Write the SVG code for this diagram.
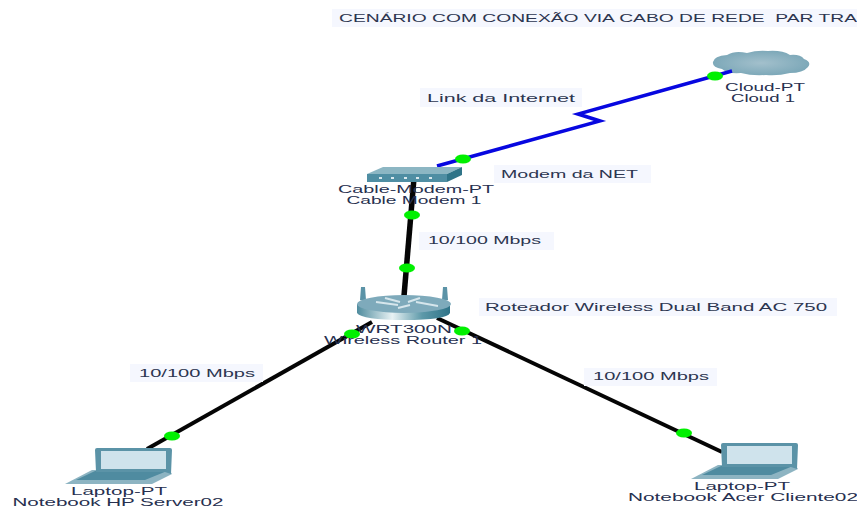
<svg xmlns="http://www.w3.org/2000/svg" width="857" height="506" viewBox="0 0 857 506">
<defs>
<linearGradient id="rb" x1="0" x2="1" y1="0" y2="0"><stop offset="0" stop-color="#4f8c9e"/><stop offset=".38" stop-color="#e8f2f4"/><stop offset=".7" stop-color="#5d99a9"/><stop offset="1" stop-color="#2f7388"/></linearGradient>
<radialGradient id="cl" cx=".5" cy=".5" r=".6"><stop offset="0" stop-color="#a3c0cc"/><stop offset="1" stop-color="#76a4b5"/></radialGradient>
<g id="laptop">
<path d="M-30 36 L-3 22 L74 22 L77 26 L57 36 Z" fill="#8db4c2"/>
<path d="M-19 32 L0 23 L72 23 L50 32 Z" fill="#4f8ba0"/>
<path d="M0 2 Q0 0 2 0 L75 0 Q77 0 77 2 L76 26 L70 24 L1 24 Z" fill="#5b93a7"/>
<rect x="6" y="3" width="65" height="18" fill="#cfe3ec"/>
</g>
</defs>
<style>
text{font-family:"Liberation Sans",Arial,sans-serif;font-size:11.5px;fill:#27304f;text-anchor:middle}
.n{font-size:10.5px}
.lb{text-anchor:start;fill:#2c3550}
.bg{fill:#f5f7fe}
.dot{fill:#00f000}
.k{stroke:#050505;fill:none}
</style>
<rect class="bg" x="332" y="9" width="525" height="18"/>
<text class="lb" x="339" y="22" textLength="518" lengthAdjust="spacingAndGlyphs" xml:space="preserve">CENÁRIO COM CONEXÃO VIA CABO DE REDE  PAR TRA</text>
<g id="cloud">
<path d="M713 62 Q714 56 727 55 Q735 50 747 53 Q757 50 768 51 Q782 50 790 55 Q800 54 804 59 Q812 62 808 67 Q803 73 790 73 Q778 76 766 75 Q752 76 741 73 Q727 74 722 69 Q712 67 713 62Z" fill="url(#cl)"/>
<text class="n" x="765" y="91" textLength="80" lengthAdjust="spacingAndGlyphs">Cloud-PT</text>
<text class="n" x="763" y="102" textLength="64" lengthAdjust="spacingAndGlyphs">Cloud 1</text>
</g>
<g id="connectors">
<path d="M437 166 L600 121 L578 114 L732 71" fill="none" stroke="#0707e0" stroke-width="3.5"/>
<path class="k" stroke-width="5.5" d="M414 178 L404 296"/>
<path class="k" stroke-width="4" d="M147 449 L372 322"/>
<path class="k" stroke-width="4" d="M437 318 L722 452"/>
<ellipse class="dot" cx="463" cy="159" rx="8" ry="4.5"/>
<ellipse class="dot" cx="715" cy="76" rx="8" ry="4.5"/>
<ellipse class="dot" cx="412" cy="215" rx="8" ry="4.5"/>
<ellipse class="dot" cx="407" cy="268" rx="8" ry="4.5"/>
<ellipse class="dot" cx="352" cy="334" rx="8" ry="4.5"/>
<ellipse class="dot" cx="462" cy="331" rx="8" ry="4.5"/>
<ellipse class="dot" cx="172" cy="436" rx="8" ry="4.5"/>
<ellipse class="dot" cx="684" cy="433" rx="8" ry="4.5"/>
</g>
<g id="modem">
<path d="M367 174 L383 167 L462 167 L447 174Z" fill="#8cb6c3"/>
<rect x="367" y="174" width="80" height="8" fill="#4f8ea3"/>
<path d="M447 174 L462 167 L462 175 L447 182Z" fill="#2f7488"/>
<g fill="#dbe9ee"><rect x="379" y="177" width="3" height="2"/><rect x="391" y="177" width="3" height="2"/><rect x="404" y="177" width="3" height="2"/><rect x="416" y="177" width="3" height="2"/><rect x="429" y="177" width="3" height="2"/></g>
<text class="n" x="416" y="193" textLength="156" lengthAdjust="spacingAndGlyphs">Cable-Modem-PT</text>
<text class="n" x="414" y="204" textLength="135" lengthAdjust="spacingAndGlyphs">Cable Modem 1</text>
</g>
<g id="router">
<path d="M360 300 L361 287 L365 287 L366 300Z M442 300 L443 287 L447 287 L448 300Z" fill="#5b93a7"/>
<path d="M357 304 L357 313 Q362 320 404 320 Q447 320 450 313 L450 304Z" fill="url(#rb)"/>
<ellipse cx="404" cy="304" rx="47" ry="9" fill="#7eaabb"/>
<path d="M376 302 L398 305 M385 298 L400 302 M416 302 L438 306 M410 305 L398 308 M420 298 L408 302" stroke="#d6e6ec" stroke-width="2" fill="none"/>
<text class="n" x="404" y="333" textLength="96" lengthAdjust="spacingAndGlyphs">WRT300N</text>
<text class="n" x="403" y="344" textLength="158" lengthAdjust="spacingAndGlyphs">Wireless Router 1</text>
</g>
<g id="laptop-hp">
<use href="#laptop" x="95" y="448"/>
<text class="n" x="119" y="495" textLength="96" lengthAdjust="spacingAndGlyphs">Laptop-PT</text>
<text class="n" x="118" y="505.5" textLength="211" lengthAdjust="spacingAndGlyphs">Notebook HP Server02</text>
</g>
<g id="laptop-acer">
<use href="#laptop" x="721" y="443"/>
<text class="n" x="742" y="489.5" textLength="96" lengthAdjust="spacingAndGlyphs">Laptop-PT</text>
<text class="n" x="743" y="500.5" textLength="230" lengthAdjust="spacingAndGlyphs">Notebook Acer Cliente02</text>
</g>
<g id="labels">
<rect class="bg" x="420" y="88" width="162" height="19"/>
<text class="lb" x="427" y="102" textLength="148" lengthAdjust="spacingAndGlyphs">Link da Internet</text>
<rect class="bg" x="494" y="165" width="157" height="18"/>
<text class="lb" x="501" y="178" textLength="137" lengthAdjust="spacingAndGlyphs">Modem da NET</text>
<rect class="bg" x="419" y="232" width="135" height="18"/>
<text class="lb" x="428" y="244" textLength="113" lengthAdjust="spacingAndGlyphs">10/100 Mbps</text>
<rect class="bg" x="479" y="298" width="358" height="18"/>
<text class="lb" x="485" y="311" textLength="342" lengthAdjust="spacingAndGlyphs">Roteador Wireless Dual Band AC 750</text>
<rect class="bg" x="130" y="364" width="133" height="18"/>
<text class="lb" x="139" y="377" textLength="116" lengthAdjust="spacingAndGlyphs">10/100 Mbps</text>
<rect class="bg" x="584" y="368" width="133" height="18"/>
<text class="lb" x="593" y="380" textLength="116" lengthAdjust="spacingAndGlyphs">10/100 Mbps</text>
</g>
</svg>
